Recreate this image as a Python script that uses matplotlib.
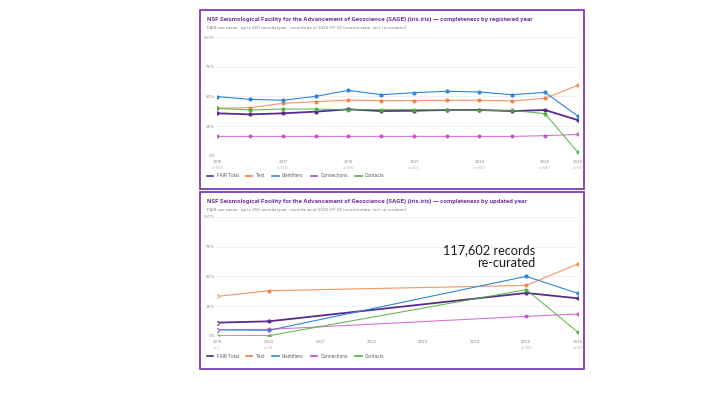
import numpy as np
import matplotlib.pyplot as plt
from matplotlib.patches import Rectangle

plt.rcParams['font.family'] = ['Inter', 'DejaVu Sans']

# --- data: registered year panel ---
reg_years = [2015, 2016, 2017, 2018, 2019, 2020, 2021, 2022, 2023, 2024, 2025, 2026]
reg_ticks = [2015, 2017, 2019, 2021, 2023, 2025, 2026]
reg_n = ["n=500", "n=500", "n=500", "n=500", "n=500", "n=500", "n=56"]
reg_fair = [35.8, 34.9, 35.8, 37.2, 39.2, 37.7, 38.0, 38.6, 38.6, 37.7, 38.6, 30.1]
reg_text = [40.0, 40.6, 44.2, 45.6, 47.0, 46.5, 46.5, 46.8, 46.8, 46.2, 48.5, 59.4]
reg_ident = [49.9, 47.6, 46.8, 50.1, 55.2, 51.5, 53.2, 54.4, 53.8, 51.5, 53.5, 33.5]
reg_conn = [16.3, 16.3, 16.3, 16.3, 16.3, 16.3, 16.3, 16.3, 16.3, 16.3, 16.9, 18.0]
reg_cont = [40.0, 38.6, 39.4, 39.4, 38.9, 38.9, 38.9, 38.6, 38.3, 38.3, 35.5, 3.1]

# --- data: updated year panel ---
upd_years = [2019, 2020, 2025, 2026]
upd_ticks = [2019, 2020, 2021, 2022, 2023, 2024, 2025, 2026]
upd_n = ["n=1", "n=26", "-", "-", "-", "-", "n=250", "n=156"]
upd_fair = [11.0, 12.1, 36.0, 31.5]
upd_text = [33.1, 37.9, 42.4, 60.4]
upd_ident = [5.0, 4.5, 50.0, 35.7]
upd_conn = [5.1, 5.3, 16.3, 18.3]
upd_cont = [0.0, 0.0, 38.8, 3.1]

names = ["FAIR Total", "Text", "Identifiers", "Connections", "Contacts"]
colors = ["#5a2a8c", "#f47a3c", "#2d86d8", "#c03fbf", "#4fae3a"]
alphas = [1.0, 0.8, 1.0, 0.7, 0.85]
widths = [1.3, 0.8, 0.8, 0.8, 0.8]

title_col = "#6b2e98"
border_col = "#7a3db6"

W, H = 720, 405
fig = plt.figure(figsize=(7.2, 4.05), dpi=100)


def fx(px):
    return px / W


def fy(py):
    return 1 - py / H


def panel(top, bot, ax_top, ax_bot, title, sub, years, series, ticks, nlab, hollow_first, leg_y):
    fig.patches.append(Rectangle((fx(200), fy(bot)), fx(584) - fx(200), fy(top) - fy(bot),
                                 transform=fig.transFigure, fill=False,
                                 edgecolor=border_col, lw=1.3))
    fig.text(fx(207), fy(top + 10), title, color=title_col, fontsize=4.15,
             fontweight='bold', va='center', ha='left')
    fig.text(fx(207), fy(top + 17.3), sub, color="#777777", fontsize=3.0,
             va='center', ha='left')
    ax = fig.add_axes([fx(217.3), fy(ax_bot), fx(577.7) - fx(217.3), fy(ax_top) - fy(ax_bot)])
    for s, c, a, lw, nm in zip(series, colors, alphas, widths, names):
        ax.plot(years, s, color=c, alpha=a, lw=lw, label=nm, zorder=3)
        if hollow_first:
            ax.plot(years[:1], s[:1], 'o', ms=2.6, mfc='white', mec=c, mew=0.7, alpha=a, zorder=4)
            ax.plot(years[1:], s[1:], 'o', ms=2.0, color=c, alpha=a, zorder=4)
        else:
            ax.plot(years, s, 'o', ms=2.0, color=c, alpha=a, zorder=4)
    ax.set_xlim(years[0], years[-1])
    ax.set_ylim(0, 100)
    ax.set_yticks([0, 25, 50, 75, 100])
    ax.set_yticklabels(["0%", "25%", "50%", "75%", "100%"], fontsize=3.0, color="#888888")
    ax.tick_params(axis='y', length=0, pad=1.5)
    ax.grid(axis='y', color="#eeeeee", lw=0.6)
    ax.set_xticks([])
    for sp in ax.spines.values():
        sp.set_visible(False)
    ax.axhline(0, color="#e4e4e4", lw=0.8, zorder=1)
    for t, n in zip(ticks, nlab):
        ax.text(t, -3.5, str(t), ha='center', va='top', fontsize=3.0, color="#888888",
                clip_on=False)
        ax.text(t, -8.5, n, ha='center', va='top', fontsize=2.7, color="#b5a8cc",
                clip_on=False)
    leg = fig.legend(*ax.get_legend_handles_labels(), loc='center left',
                     bbox_to_anchor=(fx(207), fy(leg_y)), ncol=5, frameon=False,
                     fontsize=3.3, handlelength=1.4, columnspacing=1.6, handletextpad=0.7,
                     labelcolor="#555555", borderaxespad=0, borderpad=0)
    for line in leg.get_lines():
        line.set_alpha(1.0)
        line.set_linewidth(1.2)
    return ax


panel(10, 189, 37.3, 155.7,
      "NSF Seismological Facility for the Advancement of Geoscience (SAGE) (iris.iris) \u2014 completeness by registered year",
      "FAIR use cases \u00b7 up to 500 records/year \u00b7 records as of 2026-07-26 (current state, incl. re-curation)",
      reg_years, [reg_fair, reg_text, reg_ident, reg_conn, reg_cont], reg_ticks, reg_n, False, 175.7)

panel(192, 369, 217, 335.7,
      "NSF Seismological Facility for the Advancement of Geoscience (SAGE) (iris.iris) \u2014 completeness by updated year",
      "FAIR use cases \u00b7 up to 250 records/year \u00b7 records as of 2026-07-26 (current state, incl. re-curation)",
      upd_years, [upd_fair, upd_text, upd_ident, upd_conn, upd_cont], upd_ticks, upd_n, True, 356.3)

fig.text(fx(535), fy(256.5), "117,602 records\nre-curated", ha='right', va='center',
         fontsize=9.2, family=['Lato', 'DejaVu Sans'], fontweight='normal',
         color="#1a1a1a", linespacing=1.1)

fig.savefig("out.png", dpi=100)
